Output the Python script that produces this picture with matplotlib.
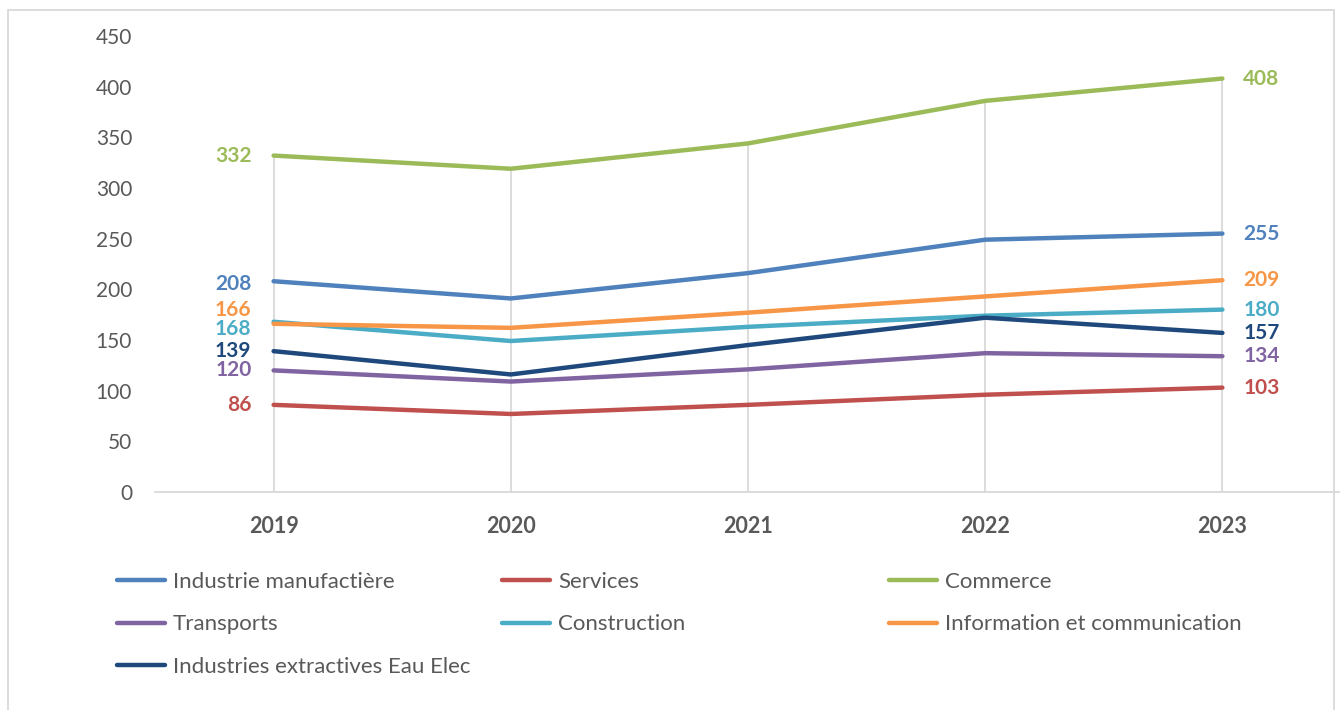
import matplotlib.pyplot as plt
from matplotlib.patches import Rectangle

# data
years = ["2019", "2020", "2021", "2022", "2023"]
industrie_manuf = [208, 191, 216, 249, 255]
services = [86, 77, 86, 96, 103]
commerce = [332, 319, 344, 386, 408]
transports = [120, 109, 121, 137, 134]
construction = [168, 149, 163, 174, 180]
information = [166, 162, 177, 193, 209]
industries_extr = [139, 116, 145, 172, 157]

series_names = ["Industrie manufactière", "Services", "Commerce", "Transports",
                "Construction", "Information et communication",
                "Industries extractives Eau Elec"]
series_values = [industrie_manuf, services, commerce, transports,
                 construction, information, industries_extr]

# style
colors = ["#4F81BD", "#C0504D", "#9BBB59", "#8064A2", "#4BACC6", "#F79646", "#1F497D"]
# vertical nudges (points) for the first labels so they don't overlap
left_nudge = [-2, 0, 0, 0, -5, 10, 0]
grey = "#595959"
plt.rcParams["font.family"] = ["Lato", "DejaVu Sans"]

fig = plt.figure(figsize=(13.4, 7.1), dpi=100)
ax = fig.add_axes([155 / 1340, 1 - 492 / 710, 1186 / 1340, 456 / 710])

x = list(range(len(years)))

# drop lines from top series down to the axis
tops = [max(v[i] for v in series_values) for i in x]
ax.vlines(x, 0, tops, color="#D9D9D9", lw=1.3, zorder=1)

handles = []
for name, vals, c, dy in zip(series_names, series_values, colors, left_nudge):
    h, = ax.plot(x, vals, color=c, lw=3.2, solid_capstyle="round", label=name, zorder=3)
    handles.append(h)
    ax.annotate(str(vals[0]), (x[0], vals[0]), xytext=(-16, dy), textcoords="offset points",
                ha="right", va="center", color=c, fontsize=15, fontweight="bold")
    ax.annotate(str(vals[-1]), (x[-1], vals[-1]), xytext=(15, 0), textcoords="offset points",
                ha="left", va="center", color=c, fontsize=15, fontweight="bold")

ax.set_xlim(-0.5, 4.5)
ax.set_ylim(0, 450)
ax.set_yticks(range(0, 451, 50))
ax.set_xticks(x)
ax.set_xticklabels(years, fontweight="bold")
ax.tick_params(axis="y", length=0, pad=16.5, labelsize=15, labelcolor=grey)
ax.tick_params(axis="x", length=0, pad=17, labelsize=15.5, labelcolor=grey)
for s in ["left", "right", "top"]:
    ax.spines[s].set_visible(False)
ax.spines["bottom"].set_color("#D9D9D9")
ax.spines["bottom"].set_linewidth(1.3)

# legend in three fixed-width columns
columns = [[0, 3, 6], [1, 4], [2, 5]]
col_x = [106 / 1340, 491 / 1340, 878 / 1340]
for cx, idx in zip(col_x, columns):
    lg = fig.legend([handles[i] for i in idx], [series_names[i] for i in idx],
                    loc="upper left", bbox_to_anchor=(cx, 1 - 561 / 710),
                    frameon=False, fontsize=16, handlelength=2.15, handletextpad=0.36,
                    labelspacing=1.0, borderpad=0, labelcolor=grey)
    for ln in lg.get_lines():
        ln.set_linewidth(3.2)

# outer frame
fig.patches.append(Rectangle((8 / 1340, -0.05), 1326 / 1340, 1.05 - 10 / 710,
                             transform=fig.transFigure, fill=False,
                             edgecolor="#D9D9D9", lw=1.3))

fig.savefig("out.png", dpi=100)
